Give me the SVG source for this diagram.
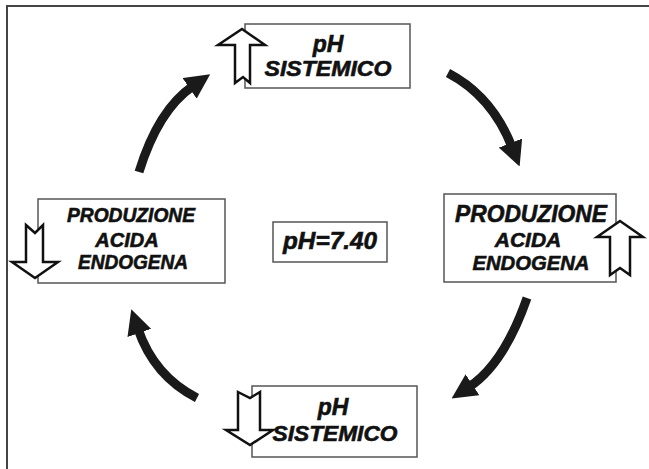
<svg xmlns="http://www.w3.org/2000/svg" width="649" height="469" viewBox="0 0 649 469">
<style>
.frame{fill:none;stroke:#444;stroke-width:2}
.box{fill:#fff;stroke:#555;stroke-width:1.5}
.hollow{fill:#fff;stroke:#111;stroke-width:2.5;stroke-linejoin:miter}
.t{font-family:"Liberation Sans",Arial,sans-serif;font-weight:bold;font-style:italic;fill:#111;stroke:#111;stroke-width:0.6;text-anchor:middle}
.cur{fill:none;stroke:#1a1a1a;stroke-width:9}
</style>
<defs>
<marker id="head" viewBox="0 0 24 24" markerWidth="25" markerHeight="25" refX="4" refY="12" orient="auto" markerUnits="userSpaceOnUse">
<path d="M0,0 L24,12 L0,24 z" fill="#1a1a1a"/>
</marker>
</defs>
<rect width="649" height="469" fill="#fff"/>
<path class="frame" d="M7,469 L7,6 L649,6"/>
<g id="connectors">
<path class="cur" d="M139,172 Q158,110 193,86" marker-end="url(#head)"/>
<path class="cur" d="M448,73 Q492,96 512,147" marker-end="url(#head)"/>
<path class="cur" d="M527,298 Q504,364 469,387" marker-end="url(#head)"/>
<path class="cur" d="M197,398 Q154,376 138,329" marker-end="url(#head)"/>
</g>
<g id="ph-top">
<rect class="box" x="245" y="24" width="165" height="64"/>
<polygon class="hollow" points="242,29 265,45 250,45 250,83 243,77 235,83 235,45 218,45"/>
<text class="t" x="328" y="52" font-size="23">pH</text>
<text class="t" x="328" y="76" font-size="22" textLength="127" lengthAdjust="spacingAndGlyphs">SISTEMICO</text>
</g>
<g id="prod-left">
<rect class="box" x="38" y="199" width="187" height="84"/>
<polygon class="hollow" points="26,225 35,233 43,225 43,262 58,262 35,278 12,262 26,262"/>
<text class="t" x="131" y="222" font-size="20" textLength="128" lengthAdjust="spacingAndGlyphs">PRODUZIONE</text>
<text class="t" x="127" y="247" font-size="20">ACIDA</text>
<text class="t" x="133" y="269" font-size="20" textLength="110" lengthAdjust="spacingAndGlyphs">ENDOGENA</text>
</g>
<g id="prod-right">
<rect class="box" x="444" y="194" width="172" height="88"/>
<polygon class="hollow" points="620,221 643,237 630,237 630,275 620,268 610,275 610,237 597,237"/>
<text class="t" x="531" y="222" font-size="23" textLength="152" lengthAdjust="spacingAndGlyphs">PRODUZIONE</text>
<text class="t" x="528" y="247" font-size="21">ACIDA</text>
<text class="t" x="531" y="270" font-size="21" textLength="117" lengthAdjust="spacingAndGlyphs">ENDOGENA</text>
</g>
<g id="ph-bottom">
<rect class="box" x="252" y="386" width="165" height="71"/>
<polygon class="hollow" points="238,392 250,398 260,392 260,430 273,430 250,445 226,430 238,430"/>
<text class="t" x="333" y="415" font-size="23">pH</text>
<text class="t" x="335" y="441" font-size="22" textLength="125" lengthAdjust="spacingAndGlyphs">SISTEMICO</text>
</g>
<g id="ph-center">
<rect class="box" x="273" y="222" width="114" height="40"/>
<text class="t" x="330" y="249" font-size="24" textLength="94" lengthAdjust="spacingAndGlyphs">pH=7.40</text>
</g>
</svg>
